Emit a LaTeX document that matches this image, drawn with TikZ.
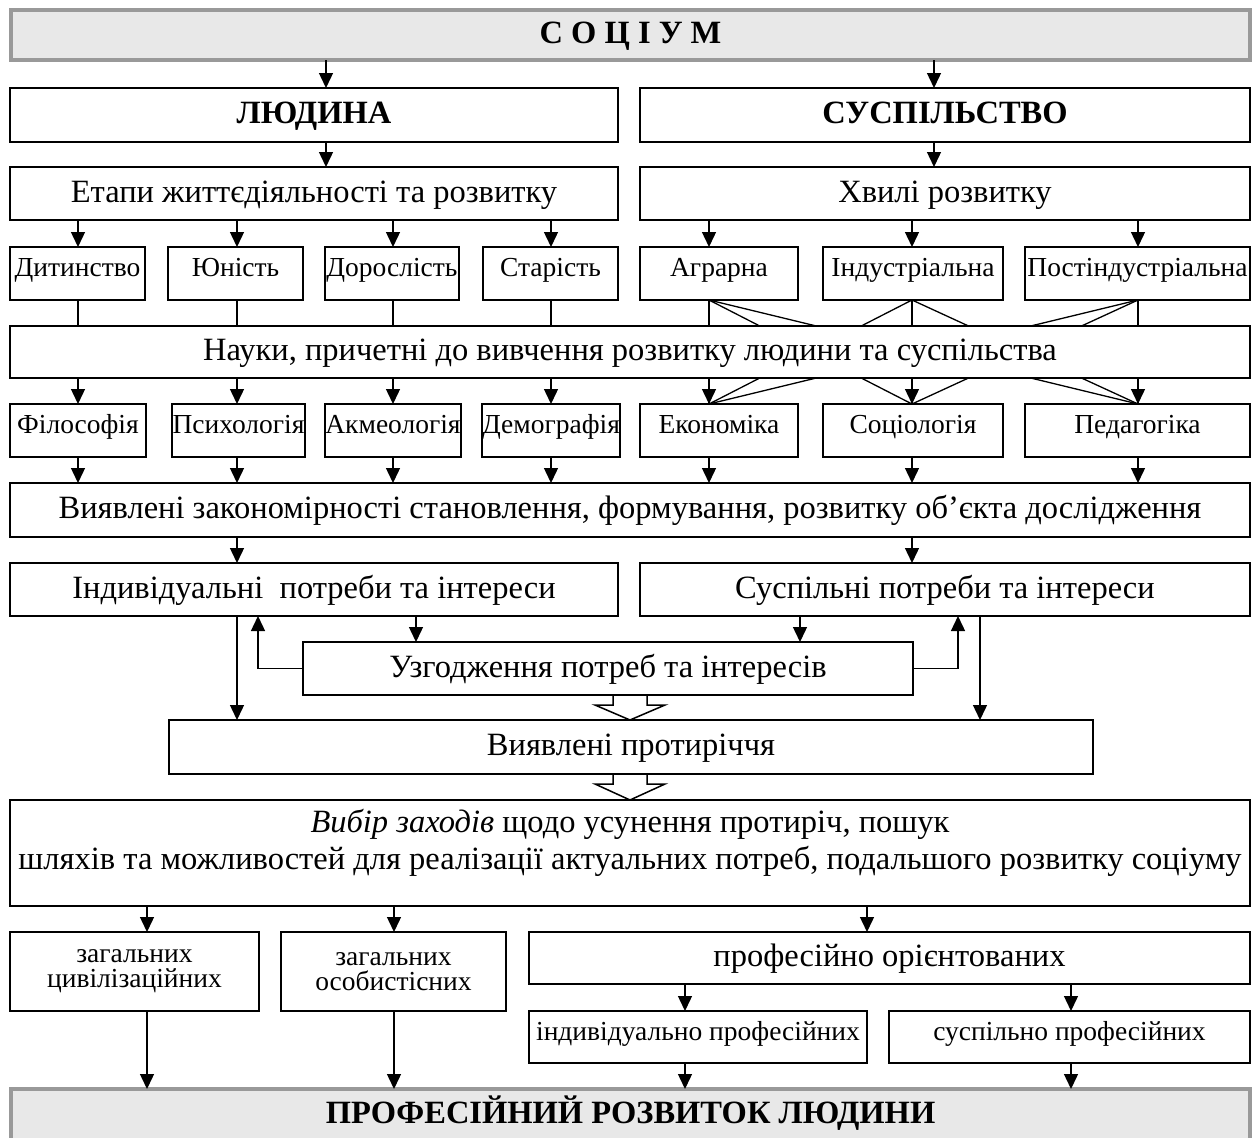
\documentclass[tikz,border=0pt]{standalone}
\usepackage{fontspec}
\setmainfont{Liberation Serif}
\usetikzlibrary{arrows.meta,calc,backgrounds}
\definecolor{boxgray}{HTML}{E8E8E8}
\definecolor{edgegray}{HTML}{999999}
\newcommand\fbig{\fontsize{32.5}{37}\selectfont}
\newcommand\fmid{\fontsize{27.5}{25}\selectfont}
% \mkbox{name}{x1}{x2}{y1}{y2}{style}{text}
\newcommand\mkbox[7]{%
  \node[#6, minimum width={(#3)-(#2)}, minimum height={(#5)-(#4)}]
    (#1) at ({((#2)+(#3))/2},{((#4)+(#5))/2}) {#7};}
% outlined block arrow from coordinate #1 (top) to #2 (tip)
\newcommand\blockarrow[2]{%
  \draw[hollow] ($(#1)+(-17,0)$) -- ($(#1)+(-17,10)$) -- ($(#1)+(-35,10)$)
    -- (#2) -- ($(#1)+(35,10)$) -- ($(#1)+(17,10)$) -- ($(#1)+(17,0)$);}
\begin{document}
\begin{tikzpicture}[x=1pt,y=-1pt,
  frame/.style={draw, line width=1.8pt, fill=white, inner sep=0pt, outer sep=0pt},
  box/.style={frame, font=\fbig, text height=22pt, text depth=5pt},
  sbox/.style={frame, font=\fmid, text height=19pt, text depth=13pt},
  twoline/.style={frame, font=\fmid, align=center},
  bbox/.style={box, font=\fbig\bfseries},
  graybox/.style={box, draw=edgegray, fill=boxgray, line width=3.5pt, font=\fbig\bfseries},
  arr/.style={line width=1.4pt, -{Triangle[width=14pt,length=15pt]}},
  ln/.style={line width=1.3pt},
  hollow/.style={draw, line width=1.5pt, line join=miter}]
\useasboundingbox (0,0) rectangle (1256,1138);
\clip (0,0) rectangle (1256,1138);

% column positions of the vertical connectors
\coordinate (c1) at (78,0);   \coordinate (c2) at (237,0);
\coordinate (c3) at (393,0);  \coordinate (c4) at (551,0);
\coordinate (c5) at (709,0);  \coordinate (c6) at (912,0);
\coordinate (c7) at (1138,0);
\coordinate (cl) at (326,0);  \coordinate (cr) at (934,0);
\coordinate (hc) at (630,0);

% top levels
\mkbox{socium}{11}{1250}{10}{60}{graybox}{С О Ц І У М}
\mkbox{lyud}{10}{618}{88}{142}{bbox}{ЛЮДИНА}
\mkbox{susp}{640}{1250}{88}{142}{bbox}{СУСПІЛЬСТВО}
\mkbox{etapy}{10}{618}{167}{220}{box}{Етапи життєдіяльності та розвитку}
\mkbox{hvyli}{640}{1250}{167}{220}{box}{Хвилі розвитку}

% stages and waves
\mkbox{dyt}{10}{145}{247}{300}{sbox}{Дитинство}
\mkbox{yun}{168}{303}{247}{300}{sbox}{Юність}
\mkbox{dor}{325}{459}{247}{300}{sbox}{Дорослість}
\mkbox{star}{483}{618}{247}{300}{sbox}{Старість}
\mkbox{agr}{640}{798}{247}{300}{sbox}{Аграрна}
\mkbox{indu}{823}{1003}{247}{300}{sbox}{Індустріальна}
\mkbox{post}{1025}{1250}{247}{300}{sbox}{Постіндустріальна}

% sciences
\mkbox{fil}{10}{146}{404}{457}{sbox}{Філософія}
\mkbox{psy}{172}{305}{404}{457}{sbox}{Психологія}
\mkbox{akm}{327}{459}{404}{457}{sbox}{Акмеологія}
\mkbox{dem}{484}{618}{404}{457}{sbox}{Демографія}
\mkbox{eko}{640}{798}{404}{457}{sbox}{Економіка}
\mkbox{socl}{823}{1003}{404}{457}{sbox}{Соціологія}
\mkbox{ped}{1025}{1250}{404}{457}{sbox}{Педагогіка}

% every wave feeds every social science (passing behind the sciences box)
\begin{scope}[on background layer]
  \foreach \w/\a in {agr/c5,indu/c6,post/c7}
    \foreach \s/\b in {eko/c5,socl/c6,ped/c7}
      \draw[ln] (\w.south -| \a) -- (\s.north -| \b);
\end{scope}

\mkbox{nauky}{10}{1250}{326}{378}{box}{Науки, причетні до вивчення розвитку людини та суспільства}
\mkbox{vyyavl}{10}{1250}{483}{537}{box}{Виявлені закономірності становлення, формування, розвитку об’єкта дослідження}
\mkbox{indiv}{10}{618}{563}{616}{box}{Індивідуальні\ \ потреби та інтереси}
\mkbox{suspil}{640}{1250}{563}{616}{box}{Суспільні потреби та інтереси}
\mkbox{uzgod}{303}{913}{642}{695}{box}{Узгодження потреб та інтересів}
\mkbox{protyr}{169}{1093}{720}{774}{box}{Виявлені протиріччя}
\mkbox{vybir}{10}{1250}{800}{906}{frame}{\parbox[c][87pt][t]{1230pt}{\centering\fontsize{32.5}{37}\selectfont
  \textit{Вибір заходів} щодо усунення протиріч, пошук\\
  шляхів та можливостей для реалізації актуальних потреб, подальшого розвитку соціуму}}

% kinds of measures
\mkbox{zag1}{10}{259}{932}{1011}{twoline}{загальних\\цивілізаційних}
\mkbox{zag2}{281}{506}{932}{1011}{twoline}{загальних\\особистісних}
\mkbox{profor}{529}{1250}{932}{984}{box}{професійно орієнтованих}
\mkbox{indprof}{529}{867}{1011}{1063}{sbox}{індивідуально професійних}
\mkbox{susprof}{889}{1250}{1011}{1063}{sbox}{суспільно професійних}
\mkbox{prof}{11}{1250}{1089}{1140}{graybox}{ПРОФЕСІЙНИЙ РОЗВИТОК ЛЮДИНИ}

% society -> human / society
\draw[arr] (socium.south -| cl) -- (lyud.north -| cl);
\draw[arr] (socium.south -| cr) -- (susp.north -| cr);
\draw[arr] (lyud.south -| cl) -- (etapy.north -| cl);
\draw[arr] (susp.south -| cr) -- (hvyli.north -| cr);

% stages and waves
\draw[arr] (etapy.south -| c1) -- (dyt.north -| c1);
\draw[arr] (etapy.south -| c2) -- (yun.north -| c2);
\draw[arr] (etapy.south -| c3) -- (dor.north -| c3);
\draw[arr] (etapy.south -| c4) -- (star.north -| c4);
\draw[arr] (hvyli.south -| c5) -- (agr.north -| c5);
\draw[arr] (hvyli.south -| c6) -- (indu.north -| c6);
\draw[arr] (hvyli.south -| c7) -- (post.north -| c7);

% stages -> sciences box
\draw[ln] (dyt.south -| c1) -- (nauky.north -| c1);
\draw[ln] (yun.south -| c2) -- (nauky.north -| c2);
\draw[ln] (dor.south -| c3) -- (nauky.north -| c3);
\draw[ln] (star.south -| c4) -- (nauky.north -| c4);

% sciences box -> sciences
\draw[arr] (nauky.south -| c1) -- (fil.north -| c1);
\draw[arr] (nauky.south -| c2) -- (psy.north -| c2);
\draw[arr] (nauky.south -| c3) -- (akm.north -| c3);
\draw[arr] (nauky.south -| c4) -- (dem.north -| c4);
\draw[arr] (nauky.south -| c5) -- (eko.north -| c5);
\draw[arr] (nauky.south -| c6) -- (socl.north -| c6);
\draw[arr] (nauky.south -| c7) -- (ped.north -| c7);

% sciences -> regularities
\foreach \s/\b in {fil/c1,psy/c2,akm/c3,dem/c4,eko/c5,socl/c6,ped/c7}
  \draw[arr] (\s.south -| \b) -- (vyyavl.north -| \b);

% regularities -> needs
\draw[arr] (vyyavl.south -| c2) -- (indiv.north -| c2);
\draw[arr] (vyyavl.south -| c6) -- (suspil.north -| c6);

% needs <-> coordination
\coordinate (xa) at (258,0);  \coordinate (xb) at (416,0);
\coordinate (xc) at (800,0);  \coordinate (xd) at (958,0);
\coordinate (xe) at (980,0);
\draw[arr] (indiv.south -| xb) -- (uzgod.north -| xb);
\draw[arr] (suspil.south -| xc) -- (uzgod.north -| xc);
\draw[arr] (uzgod.west) -| (indiv.south -| xa);
\draw[arr] (uzgod.east) -| (suspil.south -| xd);
\draw[arr] (indiv.south -| c2) -- (protyr.north -| c2);
\draw[arr] (suspil.south -| xe) -- (protyr.north -| xe);

% block arrows
\coordinate (h1) at (uzgod.south -| hc);
\coordinate (h1t) at (protyr.north -| hc);
\blockarrow{h1}{h1t}
\coordinate (h2) at (protyr.south -| hc);
\coordinate (h2t) at (vybir.north -| hc);
\blockarrow{h2}{h2t}

% measures
\coordinate (m1) at (147,0);  \coordinate (m2) at (394,0);
\coordinate (m3) at (867,0);  \coordinate (m4) at (685,0);
\coordinate (m5) at (1071,0);
\draw[arr] (vybir.south -| m1) -- (zag1.north -| m1);
\draw[arr] (vybir.south -| m2) -- (zag2.north -| m2);
\draw[arr] (vybir.south -| m3) -- (profor.north -| m3);
\draw[arr] (profor.south -| m4) -- (indprof.north -| m4);
\draw[arr] (profor.south -| m5) -- (susprof.north -| m5);
\draw[arr] (zag1.south -| m1) -- (prof.north -| m1);
\draw[arr] (zag2.south -| m2) -- (prof.north -| m2);
\draw[arr] (indprof.south -| m4) -- (prof.north -| m4);
\draw[arr] (susprof.south -| m5) -- (prof.north -| m5);
\end{tikzpicture}
\end{document}
